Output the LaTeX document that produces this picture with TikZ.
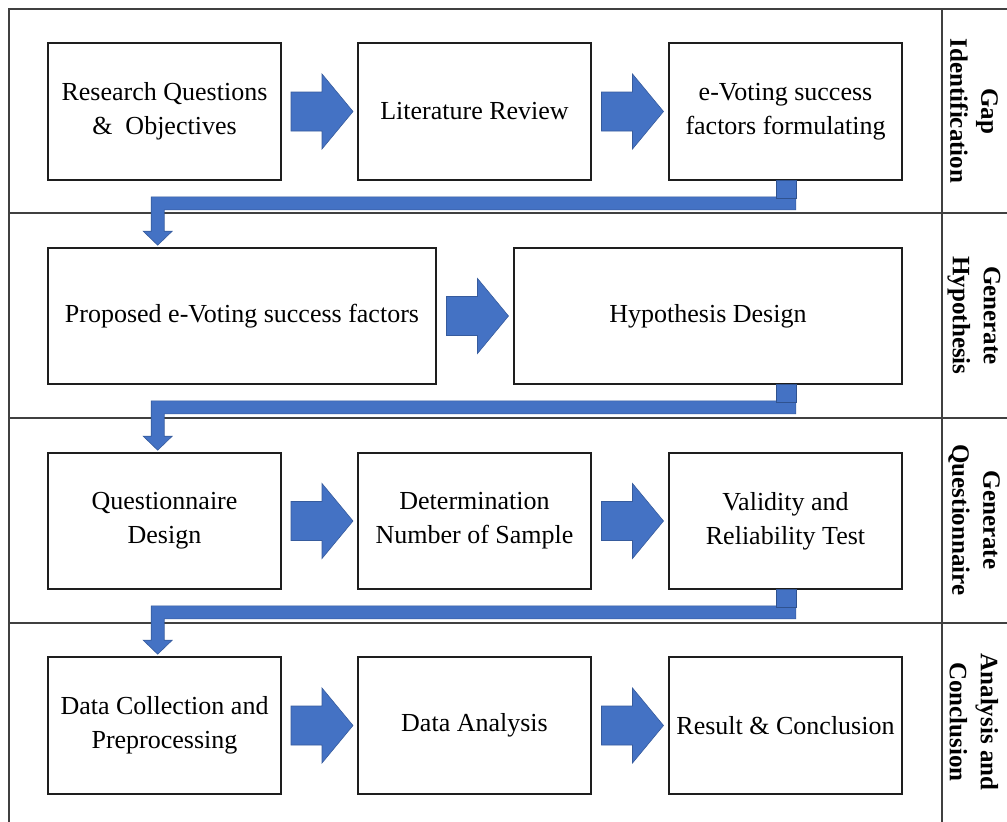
\documentclass[tikz,border=0pt]{standalone}
\usepackage{fontspec}
\setmainfont{Liberation Serif}
\usetikzlibrary{calc}
\definecolor{arrowblue}{RGB}{68,114,196}
\definecolor{arrowedge}{RGB}{47,82,143}
\definecolor{framegray}{RGB}{64,64,64}
\definecolor{boxline}{RGB}{30,30,30}
\tikzset{
  stagebox/.style={draw=boxline, line width=1.6pt, fill=white, align=center,
    inner sep=0pt, font=\fontsize{26}{34}\selectfont},
  blockarrow/.style={fill=arrowblue, draw=arrowblue!80!black, line width=0.6pt},
  sectionline/.style={draw=framegray, line width=2pt},
  phaselabel/.style={rotate=-90, align=center, font=\bfseries\fontsize{25}{31}\selectfont}
}
\newcommand{\barrow}[2]{%
  \draw[blockarrow] ($(#1.east)!0.5!(#2.west)+(2.5,0)$) ++(-31,-19.5) -- ++(31,0)
    -- ++(0,-18) -- ++(31,37.5) -- ++(-31,37.5) -- ++(0,-18) -- ++(-31,0) -- cycle;}
\newcommand{\bentarrow}[2]{%
  \coordinate (st) at ($(#1.south east)+(-107,0)$);
  \coordinate (tp) at ($(#2.north west)+(110.5,-2)$);
  \path let \p1=(st), \p2=(tp) in
    [blockarrow] (\x1,\y1-16) -- (\x1,\y1-29) -- (\x2+6.5,\y1-29) -- (\x2+6.5,\y2+14)
    -- (\x2+14.5,\y2+14) -- (\x2,\y2) -- (\x2-14.5,\y2+14) -- (\x2-6.5,\y2+14)
    -- (\x2-6.5,\y1-16) -- cycle;
  \draw[blockarrow, draw=arrowedge] ($(st)+(-20,-1)$) rectangle ($(st)+(0,17)$);}
\begin{document}
\begin{tikzpicture}[x=1pt,y=-1pt]
\useasboundingbox (0,0) rectangle (1007,822);
\fill[white] (0,0) rectangle (1007,822);
% frame
\draw[sectionline] (1007,9) -- (9,9) -- (9,822);
\draw[sectionline] (942,9) -- (942,822);
\draw[sectionline] (9,213) -- (1007,213);
\draw[sectionline] (9,418) -- (1007,418);
\draw[sectionline] (9,623) -- (1007,623);
% row 1
\node[stagebox, minimum width=233, minimum height=137] (b11) at (164.5,111.5) {Research Questions\\\&\ \ Objectives};
\node[stagebox, minimum width=233, minimum height=137] (b12) at (474.5,111.5) {Literature Review};
\node[stagebox, minimum width=233, minimum height=137] (b13) at (785.5,111.5) {e-Voting success\\factors formulating};
% row 2
\node[stagebox, minimum width=388, minimum height=136] (b21) at (242,316) {Proposed e-Voting success factors};
\node[stagebox, minimum width=388, minimum height=136] (b22) at (708,316) {Hypothesis Design};
% row 3
\node[stagebox, minimum width=233, minimum height=136] (b31) at (164.5,521) {Questionnaire\\Design};
\node[stagebox, minimum width=233, minimum height=136] (b32) at (474.5,521) {Determination\\Number of Sample};
\node[stagebox, minimum width=233, minimum height=136] (b33) at (785.5,521) {Validity and\\Reliability Test};
% row 4
\node[stagebox, minimum width=233, minimum height=137] (b41) at (164.5,725.5) {Data Collection and\\Preprocessing};
\node[stagebox, minimum width=233, minimum height=137] (b42) at (474.5,725.5) {Data Analysis};
\node[stagebox, minimum width=233, minimum height=137] (b43) at (785.5,725.5) {Result \& Conclusion};
% horizontal block arrows
\barrow{b11}{b12}
\barrow{b12}{b13}
\barrow{b21}{b22}
\barrow{b31}{b32}
\barrow{b32}{b33}
\barrow{b41}{b42}
\barrow{b42}{b43}
% bent arrows between rows
\bentarrow{b13}{b21}
\bentarrow{b22}{b31}
\bentarrow{b33}{b41}
% phase labels
\node[phaselabel] (l1) at (974,111) {Gap\\Identification};
\node[phaselabel] (l2) at (974,315.5) {Generate\\Hypothesis};
\node[phaselabel] (l3) at (974,520) {Generate\\Questionnaire};
\node[phaselabel] (l4) at (974,722) {Analysis and\\Conclusion};
\end{tikzpicture}
\end{document}
